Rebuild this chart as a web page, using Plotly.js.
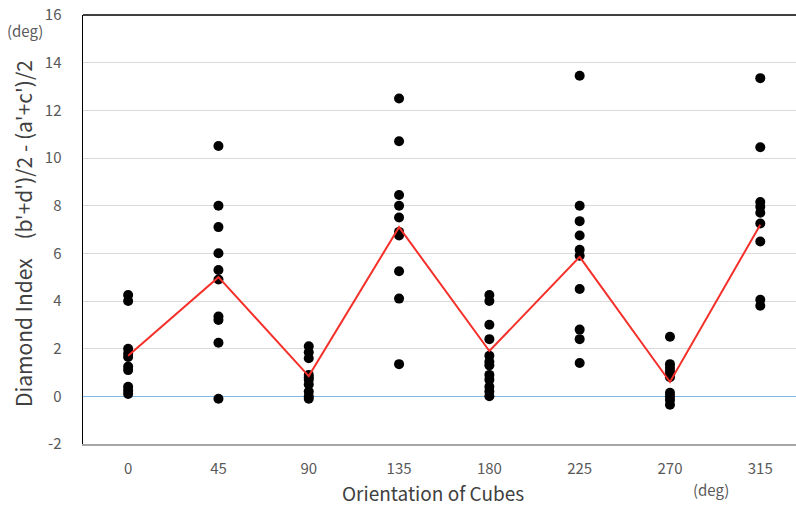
<!DOCTYPE html>
<html>
<head>
<meta charset="utf-8">
<script src="https://cdn.plot.ly/plotly-3.0.1.min.js"></script>
<style>html,body{margin:0;padding:0;background:#fff;}#chart{width:796px;height:505px;}</style>
</head>
<body>
<div id="chart"></div>
<script>
// Orientation categories (deg)
const orientations = [0, 45, 90, 135, 180, 225, 270, 315];
// Individual diamond index values per orientation (deg)
const vals0   = [4.25, 4.0, 2.0, 1.8, 1.65, 1.25, 1.1, 0.4, 0.25, 0.1];
const vals45  = [10.5, 8.0, 7.1, 6.0, 5.3, 4.9, 3.35, 3.2, 2.25, -0.1];
const vals90  = [2.1, 1.85, 1.6, 0.9, 0.8, 0.7, 0.5, 0.2, 0.0, -0.1];
const vals135 = [12.5, 10.7, 8.45, 8.0, 7.5, 6.9, 6.75, 5.25, 4.1, 1.35];
const vals180 = [4.25, 4.0, 3.0, 2.4, 1.7, 1.45, 1.3, 0.9, 0.7, 0.4, 0.2, 0.0];
const vals225 = [13.45, 8.0, 7.35, 6.75, 6.15, 5.9, 4.5, 2.8, 2.4, 1.4];
const vals270 = [2.5, 1.35, 1.2, 1.05, 0.9, 0.8, 0.15, 0.0, -0.15, -0.35];
const vals315 = [13.35, 10.45, 8.15, 7.95, 7.7, 7.25, 6.5, 4.05, 3.8];
// Mean line values
const means = [1.7, 5.0, 0.85, 7.1, 1.9, 5.85, 0.6, 7.2];
const yTicks = [-2, 0, 2, 4, 6, 8, 10, 12, 14, 16];

const groups = [vals0, vals45, vals90, vals135, vals180, vals225, vals270, vals315];
const px = [], py = [];
groups.forEach((g, i) => g.forEach(v => { px.push(orientations[i]); py.push(v); }));

const font = "'Noto Sans CJK JP', 'Noto Sans', sans-serif";

const traces = [
  {x: px, y: py, type: 'scatter', mode: 'markers',
   marker: {color: '#000000', size: 10}, hoverinfo: 'skip', showlegend: false},
  {x: orientations, y: means, type: 'scatter', mode: 'lines',
   line: {color: '#f5302a', width: 2}, showlegend: false}
];

const L = 83, T = 15, B = 444, W = 713;
const fx = p => (p - L) / W;
const fy = p => (B - p) / (B - T);

const layout = {
  width: 796, height: 505,
  margin: {l: 83, r: 0, t: 15, b: 61},
  paper_bgcolor: '#ffffff', plot_bgcolor: '#ffffff',
  font: {family: font, color: '#595959', size: 15},
  xaxis: {
    range: [-22.5, 332.8], tickvals: orientations, ticktext: orientations.map(String),
    showgrid: false, zeroline: false, showline: true, linecolor: '#a6a6a6', linewidth: 1.5,
    ticks: 'outside', ticklen: 10, tickcolor: 'rgba(0,0,0,0)',
    tickfont: {size: 15, color: '#595959'}
  },
  yaxis: {
    range: [-2, 16], tickvals: yTicks, ticktext: yTicks.map(String),
    showgrid: true, gridcolor: '#d9d9d9', gridwidth: 1,
    zeroline: true, zerolinecolor: '#7cb9e6', zerolinewidth: 1.5,
    showline: true, linecolor: '#000000', linewidth: 1.5,
    ticks: 'outside', ticklen: 17, tickcolor: 'rgba(0,0,0,0)',
    tickfont: {size: 15, color: '#595959'}
  },
  shapes: [
    {type: 'line', xref: 'paper', yref: 'paper', x0: 0, x1: 1, y0: 1, y1: 1,
     line: {color: '#000000', width: 1.5}}
  ],
  annotations: [
    {text: "Diamond Index&nbsp;&nbsp;&nbsp;&nbsp;(b'+d')/2 - (a'+c')/2", textangle: -90,
     xref: 'paper', yref: 'paper', x: fx(23), y: fy(234), xanchor: 'center', yanchor: 'middle',
     showarrow: false, font: {size: 21, color: '#404040'}},
    {text: 'Orientation of Cubes', xref: 'paper', yref: 'paper', x: fx(433), y: fy(492),
     xanchor: 'center', yanchor: 'middle', showarrow: false, font: {size: 19, color: '#404040'}},
    {text: '(deg)', xref: 'paper', yref: 'paper', x: fx(25), y: fy(31),
     xanchor: 'center', yanchor: 'middle', showarrow: false, font: {size: 15, color: '#595959'}},
    {text: '(deg)', xref: 'paper', yref: 'paper', x: fx(711), y: fy(490),
     xanchor: 'center', yanchor: 'middle', showarrow: false, font: {size: 15, color: '#595959'}}
  ]
};

Plotly.newPlot('chart', traces, layout, {displayModeBar: false, staticPlot: true});
</script>
</body>
</html>
